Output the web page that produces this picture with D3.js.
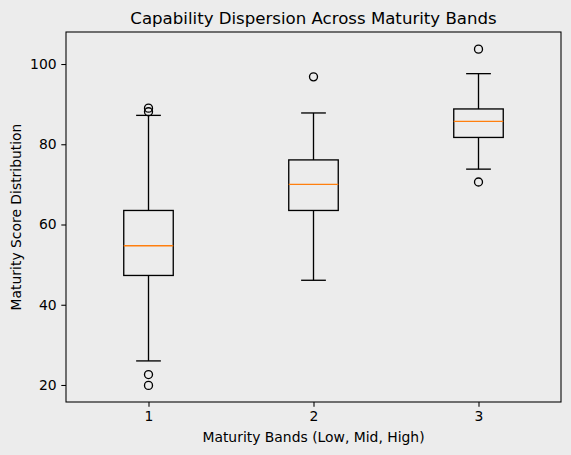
<!DOCTYPE html>
<html lang="en">
<head>
  <meta charset="UTF-8">
  <title>Capability Dispersion Across Maturity Bands</title>
  <script src="https://d3js.org/d3.v7.min.js"></script>
  <style>
    body { margin: 0; padding: 0; background: #ececec; }
    svg { display: block; font-family: "DejaVu Sans", sans-serif; }
  </style>
</head>
<body>
<svg id="chart" width="571" height="455"></svg>

<script>
  // box stats
  const bands = [1, 2, 3];
  const q1 = [47.3, 63.5, 81.7];
  const medians = [54.7, 70.0, 85.7];
  const q3 = [63.5, 76.1, 88.8];
  const whiskerLow = [26.0, 46.1, 73.8];
  const whiskerHigh = [87.2, 87.8, 97.6];
  const outliers = [[89.0, 88.1, 22.6, 19.9], [96.8], [103.7, 70.6]];
  const yTicks = [20, 40, 60, 80, 100];

  const svg = d3.select("#chart");
  const margin = { top: 32, right: 10, bottom: 53, left: 66 };
  const width = 571 - margin.left - margin.right,
        height = 455 - margin.top - margin.bottom;

  const x = d3.scaleLinear().domain([0.5, 3.5]).range([0, width]);
  const y = d3.scaleLinear().domain([15.76, 107.98]).range([height, 0]);

  const g = svg.append("g").attr("transform", `translate(${margin.left},${margin.top})`);

  const boxW = x(1.15) - x(1);   // half width of box (0.3 total)
  const capW = boxW / 2;

  const data = bands.map((b, i) => ({
    band: b, q1: q1[i], med: medians[i], q3: q3[i],
    lo: whiskerLow[i], hi: whiskerHigh[i], out: outliers[i]
  }));

  const box = g.selectAll(".box").data(data).enter().append("g").attr("class", "box");

  // whiskers
  box.append("line")
    .attr("x1", d => x(d.band)).attr("x2", d => x(d.band))
    .attr("y1", d => y(d.q1)).attr("y2", d => y(d.lo))
    .attr("stroke", "#000").attr("stroke-width", 1.33);
  box.append("line")
    .attr("x1", d => x(d.band)).attr("x2", d => x(d.band))
    .attr("y1", d => y(d.q3)).attr("y2", d => y(d.hi))
    .attr("stroke", "#000").attr("stroke-width", 1.33);

  // caps
  ["lo", "hi"].forEach(k => {
    box.append("line")
      .attr("x1", d => x(d.band) - capW).attr("x2", d => x(d.band) + capW)
      .attr("y1", d => y(d[k])).attr("y2", d => y(d[k]))
      .attr("stroke", "#000").attr("stroke-width", 1.33);
  });

  // box
  box.append("rect")
    .attr("x", d => x(d.band) - boxW)
    .attr("width", boxW * 2)
    .attr("y", d => y(d.q3))
    .attr("height", d => y(d.q1) - y(d.q3))
    .attr("fill", "none").attr("stroke", "#000").attr("stroke-width", 1.33);

  // median
  box.append("line")
    .attr("x1", d => x(d.band) - boxW).attr("x2", d => x(d.band) + boxW)
    .attr("y1", d => y(d.med)).attr("y2", d => y(d.med))
    .attr("stroke", "#ff7f0e").attr("stroke-width", 1.33);

  // fliers
  box.selectAll("circle")
    .data(d => d.out.map(v => ({ band: d.band, v })))
    .enter().append("circle")
    .attr("cx", d => x(d.band)).attr("cy", d => y(d.v))
    .attr("r", 4)
    .attr("fill", "none").attr("stroke", "#000").attr("stroke-width", 1.33);

  // axes
  const xAxis = g.append("g").attr("transform", `translate(0,${height})`)
    .call(d3.axisBottom(x).tickValues(bands).tickFormat(d3.format("d")).tickSizeOuter(0).tickSize(4.7).tickPadding(4.7));
  const yAxis = g.append("g")
    .call(d3.axisLeft(y).tickValues(yTicks).tickSizeOuter(0).tickSize(4.7).tickPadding(4.7));
  [xAxis, yAxis].forEach(a => {
    a.select(".domain").remove();
    a.selectAll(".tick line").attr("stroke", "#000").attr("stroke-width", 1.07);
    a.selectAll(".tick text").attr("font-family", "DejaVu Sans").attr("font-size", "13.9px").attr("fill", "#000");
  });

  // frame
  g.append("rect")
    .attr("width", width).attr("height", height)
    .attr("fill", "none").attr("stroke", "#000").attr("stroke-width", 1.07);

  // labels
  svg.append("text")
    .attr("x", margin.left + width / 2).attr("y", 24)
    .attr("text-anchor", "middle").attr("font-size", "16.6px")
    .text("Capability Dispersion Across Maturity Bands");
  svg.append("text")
    .attr("x", margin.left + width / 2).attr("y", 442)
    .attr("text-anchor", "middle").attr("font-size", "13.9px")
    .text("Maturity Bands (Low, Mid, High)");
  svg.append("text")
    .attr("transform", `translate(21,${margin.top + height / 2}) rotate(-90)`)
    .attr("text-anchor", "middle").attr("font-size", "13.9px")
    .text("Maturity Score Distribution");
</script>
</body>
</html>
